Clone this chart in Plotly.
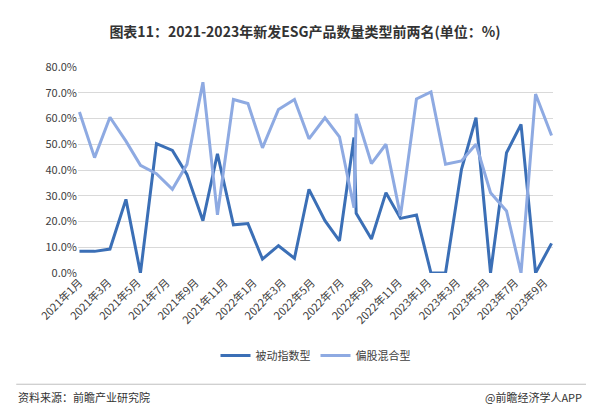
import plotly.graph_objects as go

x_pos = [0, 1.04, 2.1, 3.2, 4.2, 5.3, 6.4, 7.4, 8.5, 9.5, 10.6, 11.6, 12.6, 13.7, 14.8, 15.8, 16.9,
         17.9, 18.9, 19.05, 20.1, 21.1, 22.1, 23.2, 24.2, 25.2, 26.3, 27.3, 28.3, 29.4, 30.4, 31.4, 32.5]
passive = [8.4, 8.4, 9.3, 28.6, 0, 50.2, 47.6, 38.3, 20.3, 46.3, 18.7, 19.2, 5.4, 10.6, 5.7, 32.5, 20.3,
           12.5, 52.6, 23.2, 13.2, 31.2, 21.2, 22.5, 0, 0, 40.3, 60.3, 0, 46.7, 57.7, 0, 11.5]
mixed = [62.5, 44.8, 60.5, 51.2, 41.8, 38.6, 32.5, 42.2, 74.1, 22.6, 67.4, 65.8, 48.6, 63.5, 67.4, 52.1, 60.3,
         52.9, 25.4, 61.8, 42.5, 50, 22.2, 67.6, 70.3, 42.2, 43.5, 50, 31.2, 24.1, 0, 69.5, 53.4]
tick_vals = list(range(0, 33, 2))
tick_text = [f"{2021 + (m // 12)}年{m % 12 + 1}月" for m in tick_vals]

fig = go.Figure()
fig.add_trace(go.Scatter(x=x_pos, y=[v / 100 for v in passive], mode="lines", name="被动指数型",
                         line=dict(color="#3b6fb6", width=3)))
fig.add_trace(go.Scatter(x=x_pos, y=[v / 100 for v in mixed], mode="lines", name="偏股混合型",
                         line=dict(color="#8eaae2", width=3)))
fig.update_layout(
    width=594, height=420, paper_bgcolor="white", plot_bgcolor="white",
    margin=dict(l=70, r=49, t=59, b=155, autoexpand=False),
    font=dict(family="Noto Sans CJK SC", size=11, color="#404040"),
    title=dict(text="<b>图表11：2021-2023年新发ESG产品数量类型前两名(单位：%)</b>", x=0.5, y=0.955,
               xanchor="center", font=dict(size=14, color="#333333")),
    xaxis=dict(tickvals=tick_vals, ticktext=tick_text, tickangle=-45, range=[-0.1, 32.6],
               showgrid=False, showline=False, zeroline=False, ticks="", automargin=False),
    yaxis=dict(range=[0, 0.8], dtick=0.1, tickformat=".1%", gridcolor="#d9d9d9", zeroline=False,
               automargin=False),
    legend=dict(orientation="h", x=0.5, xanchor="center", y=-0.33, yanchor="top", font=dict(size=11)),
)
fig.add_annotation(text="资料来源：前瞻产业研究院", xref="paper", yref="paper", x=-0.13, y=-0.65,
                   xanchor="left", showarrow=False, font=dict(size=11, color="#333333"))
fig.add_annotation(text="@前瞻经济学人APP", xref="paper", yref="paper", x=1.065, y=-0.65,
                   xanchor="right", showarrow=False, font=dict(size=11, color="#333333"))
fig.add_shape(type="line", xref="paper", yref="paper", x0=-0.13, x1=1.09, y0=-0.54, y1=-0.54,
              line=dict(color="#bfbfbf", width=1))
fig.write_html("out.html")
